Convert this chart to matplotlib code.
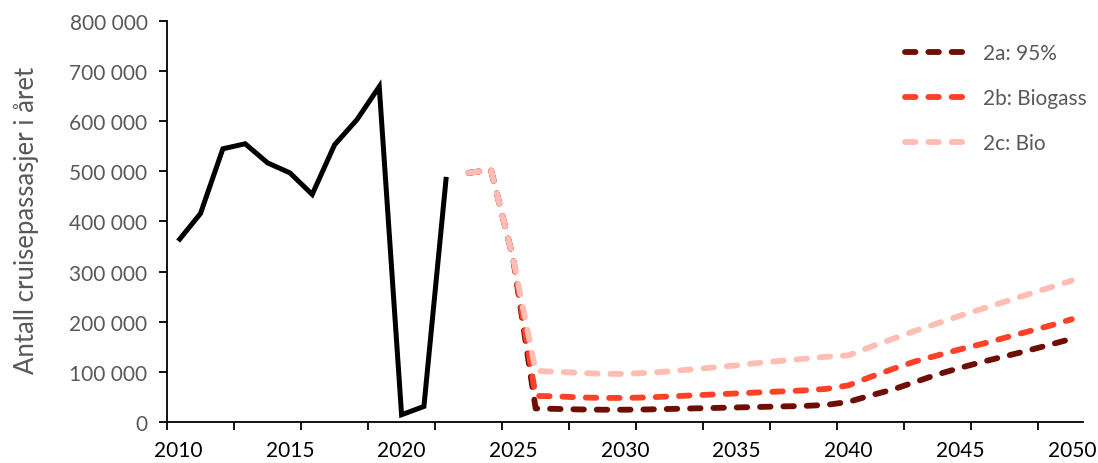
import matplotlib
matplotlib.use("Agg")
import matplotlib.pyplot as plt
from matplotlib.ticker import FixedLocator

plt.rcParams['font.family'] = ['Lato', 'DejaVu Sans']

# ---- data (values in thousands of passengers) ----
hist_years = list(range(2010, 2023))
hist_vals = [361, 416, 545, 555, 517, 497, 454, 553, 603, 669, 14.5, 31, 489]

scen_years = list(range(2023, 2051))
s2a = [497, 503, 325, 27, 26, 25, 24.5, 24.5, 25, 26, 27, 28, 29, 30, 31, 32, 34, 40,
       53, 65, 80, 95, 108, 120, 131, 142, 154, 166]
s2b = [497, 503, 325, 52, 51, 49, 48, 48, 49, 51, 53, 55, 57, 59, 61, 63, 66, 73,
       90, 106, 121, 133, 145, 156, 168, 180, 192, 205]
s2c = [497, 503, 325, 102, 100, 98, 96, 96, 98, 101, 105, 109, 113, 118, 122, 126, 130, 133,
       150, 166, 182, 197, 212, 226, 240, 254, 268, 282]

series_labels = ["2a: 95%", "2b: Biogass", "2c: Bio"]
series_colors = ["#6E0E04", "#FF4128", "#FFBDB3"]

x_tick_labels = ["2010", "2015", "2020", "2025", "2030", "2035", "2040", "2045", "2050"]
y_tick_values = [0, 100, 200, 300, 400, 500, 600, 700, 800]
y_tick_labels = ["0", "100 000", "200 000", "300 000", "400 000", "500 000",
                 "600 000", "700 000", "800 000"]
y_label = "Antall cruisepassasjer i året"

# ---- figure ----
fig = plt.figure(figsize=(10.98, 4.64), dpi=100)
ax = fig.add_axes([0.1521, 0.0884, 0.8342, 0.8642])

ax.plot(hist_years, [v * 1000 for v in hist_vals], color="black", lw=3.6,
        solid_capstyle="butt", solid_joinstyle="miter", zorder=3)

for vals, lab, col in zip([s2a, s2b, s2c], series_labels, series_colors):
    ax.plot(scen_years, [v * 1000 for v in vals], color=col, lw=4.2,
            dashes=(1.8, 2.2), dash_capstyle="round", label=lab, zorder=2)

ax.set_xlim(2009.5, 2050.5)
ax.set_ylim(0, 800000)

ax.xaxis.set_major_locator(FixedLocator([int(t) for t in x_tick_labels]))
ax.set_xticklabels(x_tick_labels)
ax.xaxis.set_minor_locator(FixedLocator([2009.5 + 3 * k for k in range(14)]))
ax.tick_params(axis="x", which="major", length=0, pad=13, labelsize=15, labelcolor="#000000")
ax.tick_params(axis="x", which="minor", length=6, width=1.3, direction="out", color="black")

ax.set_yticks([v * 1000 for v in y_tick_values])
ax.set_yticklabels(y_tick_labels)
ax.tick_params(axis="y", length=6, width=1.3, direction="out", color="black",
               labelsize=15, labelcolor="#595959", pad=8)

ax.set_ylabel(y_label, fontsize=18.5, color="#595959")
ax.yaxis.set_label_coords(-0.1397, 0.506)

for s in ["top", "right"]:
    ax.spines[s].set_visible(False)
for s in ["left", "bottom"]:
    ax.spines[s].set_linewidth(1.3)
    ax.spines[s].set_color("black")

leg = ax.legend(loc="upper left", bbox_to_anchor=(0.8057, 0.945), frameon=False,
                fontsize=15, handlelength=3.08, handletextpad=0.65, labelspacing=1.2,
                borderaxespad=0, borderpad=0)
for t in leg.get_texts():
    t.set_color("#595959")

fig.savefig("out.png", dpi=100)
